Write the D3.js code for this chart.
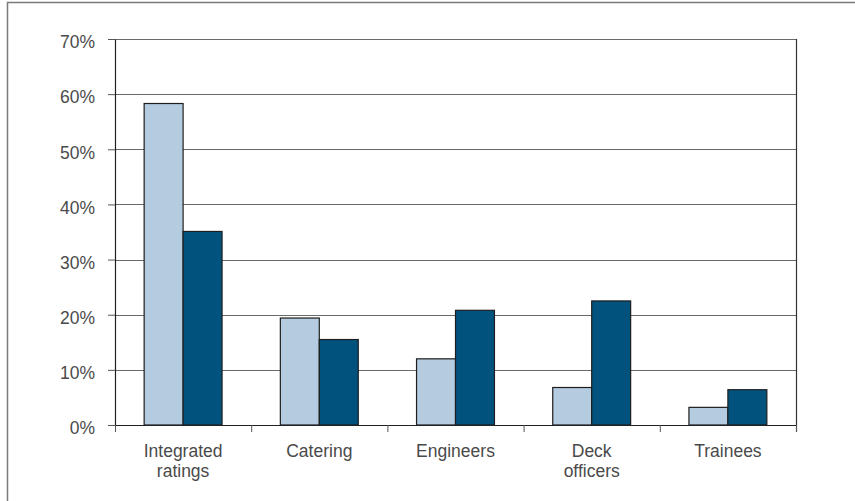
<!DOCTYPE html>
<html>
<head>
<meta charset="utf-8">
<script src="https://cdn.jsdelivr.net/npm/d3@7"></script>
<style>
  html, body { margin: 0; padding: 0; background: #fff; }
  svg { display: block; }
  text { font-family: "Liberation Sans", Arial, Helvetica, sans-serif; }
</style>
</head>
<body>
<svg id="chart" width="855" height="501"></svg>
<script>
// Crew groups and the two series (share of total, %)
const categories = [["Integrated", "ratings"], ["Catering"], ["Engineers"], ["Deck", "officers"], ["Trainees"]];
const seriesA = [58.3, 19.4, 12.0, 6.8, 3.2];
const seriesB = [35.1, 15.5, 20.8, 22.5, 6.4];
const yTicks = [0, 10, 20, 30, 40, 50, 60, 70];
const seriesColors = ["#b4cbe0", "#02527e"];

const svg = d3.select("#chart");
const margin = { left: 115, right: 59, top: 39, bottom: 76 };
const W = 855, H = 501;
const innerW = W - margin.left - margin.right;
const innerH = H - margin.top - margin.bottom;

// outer frame
svg.append("rect")
  .attr("x", 7.5).attr("y", 2.5)
  .attr("width", 900).attr("height", 600)
  .attr("fill", "none").attr("stroke", "#7a7a7a").attr("stroke-width", 1.5);

const g = svg.append("g").attr("transform", `translate(${margin.left},${margin.top})`);

const keys = categories.map((c, i) => i);
const x = d3.scaleBand().domain(keys).range([0, innerW]).paddingInner(0).paddingOuter(0);
const y = d3.scaleLinear().domain([0, 70]).range([innerH, 0]);
const barW = x.bandwidth() * 0.286;
const x1 = d3.scaleBand().domain([0, 1]).range([(x.bandwidth() - 2 * barW) / 2, (x.bandwidth() + 2 * barW) / 2]);

// horizontal gridlines
g.append("g").selectAll("line").data(yTicks.filter(t => t > 0)).join("line")
  .attr("x1", 0).attr("x2", innerW)
  .attr("y1", d => Math.round(y(d)) + 0.5).attr("y2", d => Math.round(y(d)) + 0.5)
  .attr("stroke", "#6a6a6a").attr("stroke-width", 1);

// right border of plot
g.append("line")
  .attr("x1", innerW + 0.5).attr("x2", innerW + 0.5)
  .attr("y1", 0).attr("y2", innerH + 7)
  .attr("stroke", "#333").attr("stroke-width", 1.2);

// bars
const rows = keys.map(i => [seriesA[i], seriesB[i]]);
const groups = g.append("g").selectAll("g").data(rows).join("g")
  .attr("transform", (d, i) => `translate(${x(i)},0)`);
groups.selectAll("rect").data(d => d).join("rect")
  .attr("x", (d, j) => x1(j))
  .attr("width", x1.bandwidth())
  .attr("y", d => y(d))
  .attr("height", d => innerH - y(d))
  .attr("fill", (d, j) => seriesColors[j])
  .attr("stroke", "#1e1e1e").attr("stroke-width", 1.2);

// y axis
const yAxis = g.append("g")
  .call(d3.axisLeft(y).tickValues(yTicks).tickFormat(d => d + "%").tickSize(7).tickSizeOuter(0));
yAxis.select(".domain").attr("stroke", "#222").attr("stroke-width", 1.2);
yAxis.selectAll(".tick line").attr("stroke", "#555");
yAxis.selectAll(".tick text").attr("font-size", 17.5).attr("fill", "#4a4a4a").attr("x", -20).attr("dy", "0.5em");

// x axis: boundary ticks between groups
const xAxisG = g.append("g").attr("transform", `translate(0,${innerH})`);
xAxisG.append("line").attr("x1", 0).attr("x2", innerW).attr("y1", 0.5).attr("y2", 0.5)
  .attr("stroke", "#222").attr("stroke-width", 1.2);
const bounds = keys.map(i => x(i)).concat([innerW]);
xAxisG.selectAll("line.bt").data(bounds).join("line").attr("class", "bt")
  .attr("x1", d => d + 0.5).attr("x2", d => d + 0.5).attr("y1", 0).attr("y2", 7)
  .attr("stroke", "#555").attr("stroke-width", 1);

// category labels
const lbl = xAxisG.selectAll("text.cat").data(categories).join("text").attr("class", "cat")
  .attr("x", (d, i) => x(i) + x.bandwidth() / 2)
  .attr("y", 32)
  .attr("text-anchor", "middle")
  .attr("font-size", 17.5).attr("fill", "#4a4a4a");
lbl.selectAll("tspan").data(d => d).join("tspan")
  .attr("x", function() { return d3.select(this.parentNode).attr("x"); })
  .attr("dy", (d, k) => k === 0 ? 0 : 20)
  .text(d => d);
</script>
</body>
</html>
